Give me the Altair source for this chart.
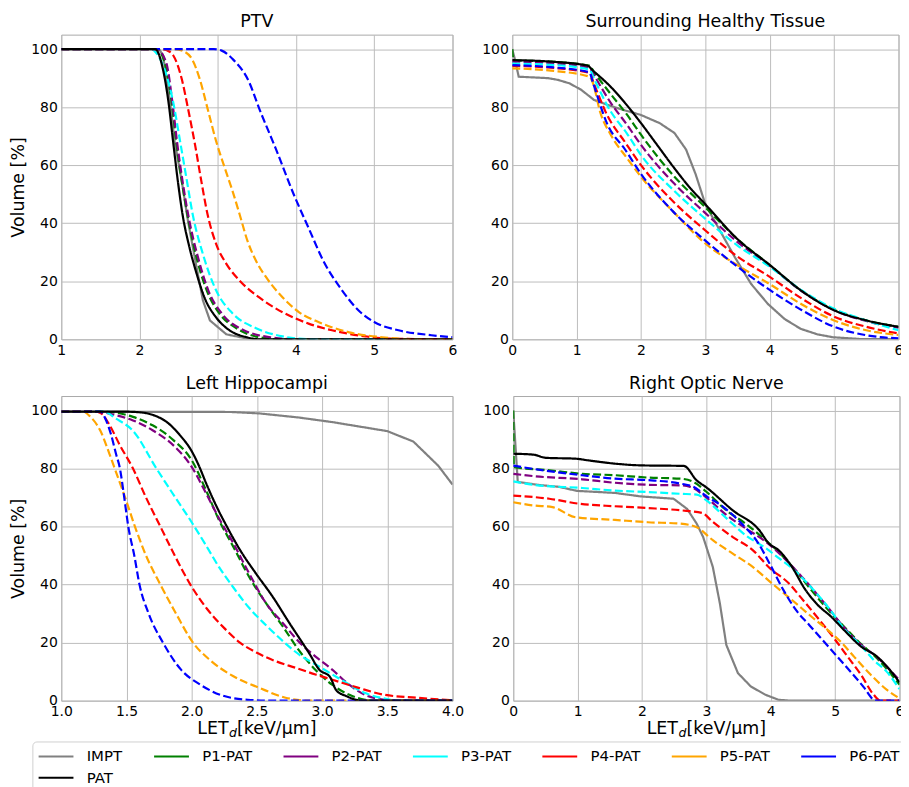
import altair as alt
import pandas as pd

SERIES = ["IMPT", "P1-PAT", "P2-PAT", "P3-PAT", "P4-PAT", "P5-PAT", "P6-PAT", "PAT"]
COLORS = ["#808080", "#008000", "#800080", "#00ffff", "#ff0000", "#ffa500", "#0000ff", "#000000"]
STYLE = ["solid", "dashed", "dashed", "dashed", "dashed", "dashed", "dashed", "solid"]

# ---------------- PTV ----------------
PTV_IMPT = [(1, 100), (2.25, 100), (2.30, 97.9), (2.39, 81.8), (2.45, 68), (2.54, 54.5), (2.62, 40.7),
            (2.73, 24.7), (2.81, 13.4), (2.90, 6.5), (3.11, 1.7), (3.37, 0.3), (3.5, 0), (6, 0)]
PTV_P1 = [(1, 100), (2.22, 100), (2.32, 95.5), (2.41, 81.8), (2.47, 68), (2.54, 54.5), (2.62, 41.8),
          (2.73, 28), (2.86, 16.8), (3.02, 8.9), (3.24, 3.8), (3.53, 0.7), (3.8, 0), (6, 0)]
PTV_P2 = [(1, 100), (2.22, 100), (2.34, 95.5), (2.42, 81.8), (2.48, 68), (2.55, 54.5), (2.63, 41.8),
          (2.75, 28), (2.88, 16.8), (3.06, 8.6), (3.32, 3.3), (3.7, 0.6), (4.0, 0), (6, 0)]
PTV_P3 = [(1, 100), (2.15, 100), (2.22, 98.5), (2.32, 93), (2.43, 81.8), (2.52, 68), (2.60, 55.5),
          (2.68, 43), (2.81, 29.4), (2.98, 16.8), (3.19, 8.9), (3.49, 3.8), (3.83, 1.0), (4.2, 0), (6, 0)]
PTV_P4 = [(1, 100), (2.28, 100), (2.35, 99.6), (2.43, 97.9), (2.54, 89.7), (2.62, 79.5), (2.71, 67),
          (2.79, 54.5), (2.87, 43), (2.98, 32.8), (3.11, 26), (3.28, 20.2), (3.53, 14.4), (3.83, 9.3),
          (4.16, 5.4), (4.46, 3.1), (4.89, 1.0), (5.2, 0.2), (6, 0)]
PTV_P5 = [(1, 100), (2.45, 100), (2.55, 99.4), (2.67, 96.6), (2.77, 89.7), (2.87, 79.5), (2.98, 68.2),
          (3.09, 59), (3.19, 51), (3.28, 43), (3.38, 33.9), (3.49, 27), (3.62, 21.3), (3.83, 14.4),
          (4.04, 9.3), (4.30, 5.8), (4.68, 2.4), (5.10, 0.7), (5.5, 0), (6, 0)]
PTV_P6 = [(1, 100), (2.95, 100), (3.05, 99.5), (3.19, 96.6), (3.40, 88.7), (3.53, 79.5), (3.74, 65.8),
          (3.97, 50), (4.16, 38.4), (4.35, 27), (4.59, 16.8), (4.80, 9.9), (5.01, 5.8), (5.31, 3.1),
          (5.73, 1.4), (6, 0.7)]
PTV_PAT = [(1, 100), (2.20, 100), (2.30, 93), (2.37, 81.8), (2.43, 68), (2.49, 54.5), (2.55, 43),
           (2.64, 31.5), (2.73, 22.6), (2.83, 14.4), (2.98, 7.5), (3.15, 3.1), (3.37, 0.7), (3.52, 0), (6, 0)]

# ---------------- Surrounding Healthy Tissue ----------------
SHT_IMPT = [(0, 100), (0.05, 95.7), (0.1, 90.5), (0.56, 90), (0.71, 89.4), (0.89, 88.2), (1.07, 86),
            (1.27, 82.5), (1.48, 80.8), (1.73, 79), (1.99, 77.4), (2.29, 74.5), (2.52, 71.1), (2.70, 65.4),
            (2.85, 56.8), (3.0, 46.5), (3.20, 38.5), (3.46, 28.2), (3.71, 19.1), (3.97, 12.2), (4.23, 7),
            (4.48, 3.6), (4.74, 1.7), (4.98, 0.7), (5.4, 0.1), (6, 0)]
SHT_P1 = [(0, 100), (0.02, 96.2), (0.6, 95.7), (1.2, 94.3), (1.27, 92.1), (1.53, 84.5), (1.78, 77.5),
          (2.0, 70.5), (2.5, 56.5), (3.0, 45.5), (3.5, 34.5), (4.0, 25.6), (4.5, 16.6), (5.0, 10.2),
          (5.5, 6.5), (6.0, 4.3)]
SHT_P2 = [(0, 95.7), (0.6, 95.2), (1.2, 93.5), (1.27, 91), (1.53, 81.5), (1.78, 74), (2.0, 67),
          (2.5, 54), (3.0, 43.5), (3.5, 33.5), (4.0, 25.3), (4.5, 16.5), (5.0, 10), (5.5, 6.3), (6.0, 4.0)]
SHT_P3 = [(0, 95), (0.6, 94.6), (1.2, 93), (1.27, 89.8), (1.53, 78.5), (1.78, 71), (2.0, 63.5),
          (2.5, 51.5), (3.0, 41.5), (3.5, 32.3), (4.0, 25), (4.5, 16.8), (5.0, 10.5), (5.5, 6.5), (6.0, 3.1)]
SHT_P4 = [(0, 94.2), (0.6, 93.6), (1.2, 91.8), (1.27, 88), (1.48, 77), (1.75, 68), (2.0, 60),
          (2.5, 47.5), (3.0, 37.5), (3.5, 28.5), (4.0, 21.5), (4.5, 14), (5.0, 7.8), (5.5, 4.3), (6.0, 2.0)]
SHT_P5 = [(0, 93.4), (0.6, 92.6), (1.2, 90.5), (1.25, 88.5), (1.37, 78), (1.53, 70.5), (1.78, 62.5),
          (2.0, 56), (2.5, 44), (3.0, 33), (3.5, 25.5), (4.0, 19), (4.5, 12), (5.0, 6.5), (5.5, 3.1), (6.0, 1.5)]
SHT_P6 = [(0, 94.5), (0.6, 93.8), (1.2, 92), (1.25, 88.7), (1.48, 74), (1.75, 65.5), (2.0, 57),
          (2.5, 44), (3.0, 34), (3.5, 25), (4.0, 17), (4.5, 10), (5.0, 4.3), (5.5, 1.4), (6.0, 0.3)]
SHT_PAT = [(0, 96.2), (0.6, 95.7), (1.17, 94.3), (1.25, 92.7), (1.53, 87), (1.78, 80.7), (2.0, 74.5),
           (2.25, 67), (2.5, 59.5), (2.75, 52.5), (3.0, 46.5), (3.5, 34.5), (4.0, 25.6), (4.5, 16.6),
           (5.0, 10), (5.5, 6.5), (6.0, 4.3)]

# ---------------- Left Hippocampi ----------------
LH_IMPT = [(1.0, 99.6), (2.3, 99.5), (2.52, 99.0), (2.82, 97.6), (3.08, 96), (3.5, 92.9), (3.70, 89.3),
           (3.89, 81), (4.0, 74.5)]
LH_P1 = [(1.0, 99.6), (1.3, 99.6), (1.37, 99.5), (1.55, 97.8), (1.70, 94.9), (1.86, 89.8), (2.0, 82.9),
         (2.11, 72.5), (2.21, 62.2), (2.32, 53), (2.44, 42.7), (2.57, 33.6), (2.70, 25.5), (2.82, 17.5),
         (2.95, 10.6), (3.08, 5.4), (3.21, 2), (3.33, 0.3), (3.4, 0), (4.0, 0)]
LH_P2 = [(1.0, 99.6), (1.3, 99.6), (1.37, 98.9), (1.55, 96.6), (1.70, 93.2), (1.86, 88), (2.0, 80.6),
         (2.11, 71.5), (2.21, 62.8), (2.32, 54.2), (2.44, 43.9), (2.57, 33.6), (2.70, 26.7), (2.82, 20.4),
         (2.95, 15.2), (3.08, 10.6), (3.21, 5.4), (3.33, 2), (3.48, 0.3), (3.55, 0), (4.0, 0)]
LH_P3 = [(1.0, 99.6), (1.33, 99.6), (1.42, 97.2), (1.55, 93), (1.73, 80), (1.86, 71), (2.0, 61.5),
         (2.11, 53.5), (2.21, 46), (2.32, 39), (2.44, 32), (2.57, 26), (2.70, 20.5), (2.82, 16),
         (2.95, 12.5), (3.08, 9), (3.21, 5.5), (3.33, 2.6), (3.46, 0.9), (3.59, 0), (4.0, 0)]
LH_P4 = [(1.0, 99.6), (1.25, 99.6), (1.30, 99.2), (1.37, 95), (1.45, 88), (1.55, 80), (1.65, 70),
         (1.76, 60), (1.87, 50), (1.99, 40), (2.12, 31.5), (2.25, 25), (2.37, 20), (2.5, 16.5),
         (2.65, 13.5), (2.8, 11.3), (2.95, 9), (3.08, 7.2), (3.28, 4.4), (3.48, 2), (3.73, 1), (4.0, 0.1)]
LH_P5 = [(1.0, 99.6), (1.17, 99.6), (1.22, 98), (1.30, 93), (1.37, 85), (1.41, 80), (1.49, 70),
         (1.565, 60), (1.65, 50), (1.76, 40), (1.88, 30), (2.01, 20), (2.14, 14), (2.32, 8.4), (2.52, 4.4),
         (2.72, 1), (2.85, 0.1), (2.9, 0), (4.0, 0)]
LH_P6 = [(1.0, 99.6), (1.30, 99.6), (1.34, 97), (1.38, 92), (1.42, 85), (1.45, 80), (1.48, 71),
         (1.514, 60), (1.56, 50), (1.60, 40), (1.67, 30), (1.78, 20), (1.92, 10.6), (2.07, 5.4),
         (2.22, 2), (2.43, 0.3), (2.6, 0), (4.0, 0)]
LH_PAT = [(1.0, 99.6), (1.5, 99.6), (1.60, 99.4), (1.72, 98.2), (1.81, 96), (1.91, 91.5), (2.0, 86),
          (2.06, 80.5), (2.11, 75), (2.19, 67), (2.27, 60), (2.37, 52), (2.49, 44), (2.62, 35.9),
          (2.75, 26.7), (2.87, 18.5), (2.90, 16.4), (2.98, 10.6), (3.06, 8.2), (3.11, 3.5),
          (3.19, 1.5), (3.27, 0.2), (3.3, 0), (4.0, 0)]

# ---------------- Right Optic Nerve ----------------
RON_IMPT = [(0, 100), (0.07, 75.4), (0.41, 74.3), (0.71, 73.7), (0.99, 72.3), (1.58, 71.6), (1.98, 70.4),
            (2.49, 69.6), (2.70, 66.1), (2.85, 61), (2.95, 56.4), (3.10, 46.1), (3.21, 33.5), (3.31, 19.2),
            (3.49, 9.5), (3.69, 4.9), (3.92, 2), (4.12, 0.3), (4.3, 0), (6, 0)]
RON_P1 = [(0, 100), (0.01, 80.5), (0.56, 79.4), (1.07, 78.2), (1.58, 77.7), (2.09, 76.9), (2.60, 76.5),
          (2.80, 75.4), (3.0, 72), (3.31, 65.6), (3.61, 61), (3.92, 55.3), (4.12, 51.3), (4.38, 45),
          (4.63, 38.1), (4.89, 31.3), (5.14, 25.5), (5.39, 19.8), (5.65, 14.6), (6.0, 5.5)]
RON_P2 = [(0, 78.2), (0.31, 77.4), (1.07, 76.3), (1.58, 75.1), (2.09, 74.4), (2.60, 74.2), (2.75, 73.7),
          (3.0, 70), (3.31, 64), (3.61, 59.4), (3.92, 54.8), (4.12, 51), (4.38, 45.2), (4.63, 39),
          (4.89, 32.1), (5.14, 25.2), (5.39, 19.5), (5.65, 15), (6.0, 7)]
RON_P3 = [(0, 75.6), (0.31, 74.4), (1.07, 73.3), (1.58, 72.4), (2.09, 71.9), (2.60, 71.3), (2.85, 71),
          (3.0, 69), (3.31, 62.9), (3.61, 57), (3.92, 52.6), (4.12, 49.2), (4.38, 44.7), (4.63, 39),
          (4.9, 32), (5.15, 24.5), (5.4, 19), (5.6, 14), (5.8, 10), (6.0, 4)]
RON_P4 = [(0, 70.7), (0.56, 69.6), (1.02, 67.9), (1.58, 67), (2.09, 66.4), (2.60, 65.6), (2.93, 64.7),
          (3.10, 61.6), (3.41, 56.4), (3.72, 51.9), (3.97, 46), (4.3, 40), (4.47, 35.5), (4.75, 28),
          (5.0, 21), (5.2, 15), (5.4, 9), (5.6, 2), (5.7, 0), (6, 0)]
RON_P5 = [(0, 68.4), (0.31, 67.3), (0.61, 66.7), (0.97, 63.2), (1.58, 62.3), (2.09, 61.5), (2.60, 61),
          (2.85, 59.8), (3.10, 55.3), (3.41, 50.7), (3.72, 46.1), (4.02, 40.4), (4.33, 34.7), (4.63, 29),
          (4.94, 23.3), (5.1, 20), (5.3, 15), (5.55, 9), (5.8, 3.8), (6.0, 0.8)]
RON_P6 = [(0, 81), (0.31, 79.9), (1.07, 77.7), (1.58, 76.5), (2.09, 76), (2.60, 74.8), (2.80, 73.7),
          (3.0, 70.5), (3.26, 66.8), (3.55, 61), (3.8, 54.5), (4.0, 46.5), (4.2, 38), (4.4, 31), (4.6, 26),
          (4.9, 18.5), (5.2, 11), (5.45, 4.5), (5.6, 0.3), (5.65, 0), (6, 0)]
RON_PAT = [(0, 85.1), (0.31, 84.8), (0.51, 83.7), (0.97, 83.4), (1.17, 82.8), (1.58, 81.7), (1.98, 81.1),
           (2.65, 80.9), (2.85, 75.9), (3.0, 73.5), (3.41, 65.6), (3.82, 58.8), (3.97, 54.2), (4.12, 51.9),
           (4.33, 46.1), (4.53, 38.5), (4.73, 33), (4.94, 28.9), (5.14, 24.3), (5.40, 18.7), (5.65, 15.2),
           (5.85, 10.6), (6.0, 6.3)]

PTV_ALL = [PTV_IMPT, PTV_P1, PTV_P2, PTV_P3, PTV_P4, PTV_P5, PTV_P6, PTV_PAT]
SHT_ALL = [SHT_IMPT, SHT_P1, SHT_P2, SHT_P3, SHT_P4, SHT_P5, SHT_P6, SHT_PAT]
LH_ALL = [LH_IMPT, LH_P1, LH_P2, LH_P3, LH_P4, LH_P5, LH_P6, LH_PAT]
RON_ALL = [RON_IMPT, RON_P1, RON_P2, RON_P3, RON_P4, RON_P5, RON_P6, RON_PAT]

Y_TICKS = [0, 20, 40, 60, 80, 100]
FONT = "DejaVu Sans"
WL, WR, H = 393, 388, 306


def to_df(lists):
    rows = []
    for s, st, pts in zip(SERIES, STYLE, lists):
        for x, y in pts:
            rows.append({"series": s, "style": st, "x": x, "y": y})
    return pd.DataFrame(rows)


LEGEND = alt.Legend(title=None, orient="none", legendX=-29, legendY=710, columns=7, direction="horizontal",
                    symbolType="M-1,0H3", symbolSize=306.25, symbolStrokeWidth=2, symbolDash=[1, 0],
                    symbolFillColor="transparent",
                    labelFont=FONT, labelFontSize=15, labelOffset=29.5, columnPadding=27,
                    rowPadding=3.5, padding=5, strokeColor="#d0d0d0", cornerRadius=4,
                    fillColor="white", labelColor="black")


def panel(title, lists, xdom, xticks, xfmt, ytitle, xtitle, W):
    df = to_df(lists)
    xenc = alt.X("x:Q", scale=alt.Scale(domain=xdom, nice=False, zero=False),
                 axis=alt.Axis(values=xticks, format=xfmt, title=None, labelFlush=False,
                               labelOverlap=False))
    yenc = alt.Y("y:Q", scale=alt.Scale(domain=[0, 105], nice=False),
                 axis=alt.Axis(values=Y_TICKS, title=ytitle if ytitle else None,
                               labelOverlap=False, labelFlush=False))
    color = alt.Color("series:N", scale=alt.Scale(domain=SERIES, range=COLORS), legend=LEGEND)
    dash = alt.StrokeDash("style:N", scale=alt.Scale(domain=["solid", "dashed"], range=[[1, 0], [8, 3.4]]),
                          legend=None)
    base = alt.Chart(df)
    impt = base.transform_filter(alt.datum.series == "IMPT").mark_line(
        strokeWidth=2.2, clip=True).encode(x=xenc, y=yenc, color=color, strokeDash=dash)
    rest = base.transform_filter(alt.datum.series != "IMPT").mark_line(
        strokeWidth=2.2, clip=True, interpolate="monotone").encode(x=xenc, y=yenc, color=color, strokeDash=dash)
    layers = [impt, rest]
    if xtitle:
        cx = W / 2
        t1 = alt.Chart(pd.DataFrame({"t": ["LET"]})).mark_text(
            align="right", baseline="alphabetic", font=FONT, fontSize=17.5, color="black").encode(
            text="t:N", x=alt.value(cx - 28.5), y=alt.value(H + 33))
        t2 = alt.Chart(pd.DataFrame({"t": ["d"]})).mark_text(
            align="left", baseline="alphabetic", font=FONT, fontSize=12.5, fontStyle="italic",
            color="black").encode(text="t:N", x=alt.value(cx - 28), y=alt.value(H + 36.5))
        t3 = alt.Chart(pd.DataFrame({"t": ["[keV/μm]"]})).mark_text(
            align="left", baseline="alphabetic", font=FONT, fontSize=17.5, color="black").encode(
            text="t:N", x=alt.value(cx - 20), y=alt.value(H + 33))
        layers += [t1, t2, t3]
    return alt.layer(*layers).properties(width=W, height=H, title=title)


p1 = panel("PTV", PTV_ALL, [1, 6], [1, 2, 3, 4, 5, 6], "d", "Volume [%]", False, WL)
p2 = panel("Surrounding Healthy Tissue", SHT_ALL, [0, 6], [0, 1, 2, 3, 4, 5, 6], "d", None, False, WR)
p3 = panel("Left Hippocampi", LH_ALL, [1, 4], [1.0, 1.5, 2.0, 2.5, 3.0, 3.5, 4.0], ".1f", "Volume [%]", True, WL)
p4 = panel("Right Optic Nerve", RON_ALL, [0, 6], [0, 1, 2, 3, 4, 5, 6], "d", None, True, WR)

top = alt.hconcat(p1, p2, spacing=23)
bottom = alt.hconcat(p3, p4, spacing=17)
chart = alt.vconcat(top, bottom, spacing=16).properties(
    padding={"left": 0.5, "top": 3, "right": -4.5, "bottom": 0}
).configure_view(stroke="#a8a8a8", strokeWidth=1).configure_axis(
    grid=True, gridColor="#bcbcbc", gridWidth=1, domain=False, tickSize=0, labelPadding=4,
    labelFont=FONT, labelFontSize=14, labelColor="black", titleFont=FONT, titleFontSize=17.5,
    titleFontWeight="normal", titleColor="black", titlePadding=3
).configure_title(font=FONT, fontSize=17.5, fontWeight="normal", color="black", offset=4, anchor="middle")

chart.save("out.html", embed_options={"renderer": "svg", "actions": False})
